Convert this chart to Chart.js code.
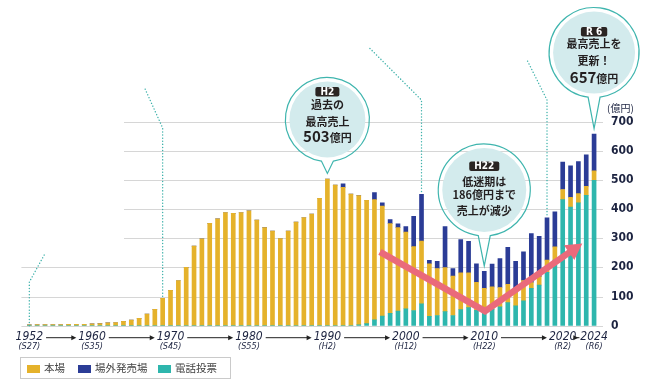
<!DOCTYPE html>
<html lang="ja">
<head>
<meta charset="utf-8">
<title>売上推移</title>
<script src="https://cdn.jsdelivr.net/npm/chart.js@4.4.1/dist/chart.umd.min.js"></script>
<style>
  body { margin: 0; background: #fff; }
  #wrap { position: relative; width: 658px; height: 391px; }
  #legend {
    position: absolute; left: 20px; top: 357px; width: 209px; height: 20px;
    border: 1px solid #cacaca;
    font-family: "Noto Sans CJK JP", sans-serif; font-size: 10.5px; color: #444;
  }
  #legend .item { position: absolute; top: 0; height: 20px; line-height: 20px; white-space: nowrap; }
  #legend .item i { display: inline-block; width: 13px; height: 8px; margin-right: 4px; vertical-align: -0.5px; }
</style>
</head>
<body>
<div id="wrap">
  <canvas id="salesChart" width="658" height="391"></canvas>
  <div id="legend">
    <span class="item" style="left:6px"><i style="background:#E5B22B"></i>本場</span>
    <span class="item" style="left:57px"><i style="background:#2B3C96"></i>場外発売場</span>
    <span class="item" style="left:137px"><i style="background:#2EB6AD"></i>電話投票</span>
  </div>
</div>
<script>
// years on the x axis
var years = [1952, 1953, 1954, 1955, 1956, 1957, 1958, 1959, 1960,
  1961, 1962, 1963, 1964, 1965, 1966, 1967, 1968, 1969, 1970,
  1971, 1972, 1973, 1974, 1975, 1976, 1977, 1978, 1979, 1980,
  1981, 1982, 1983, 1984, 1985, 1986, 1987, 1988, 1989, 1990,
  1991, 1992, 1993, 1994, 1995, 1996, 1997, 1998, 1999, 2000,
  2001, 2002, 2003, 2004, 2005, 2006, 2007, 2008, 2009, 2010,
  2011, 2012, 2013, 2014, 2015, 2016, 2017, 2018, 2019, 2020,
  2021, 2022, 2023, 2024];

// 本場 (億円)
var honba = [3, 4, 4, 4, 4, 5, 5, 5, 6,
  7, 10, 11, 15, 19, 25, 40, 56, 94, 121,
  155, 200, 273, 298, 351, 366, 388, 385, 388, 394,
  362, 336, 324, 299, 324, 355, 371, 383, 437, 503,
  482, 474, 451, 443, 423, 412, 377, 308, 286, 263,
  219, 215, 180, 161, 151, 135, 126, 119, 96, 80,
  77, 66, 63, 56, 70, 20, 29, 42, 45, 35,
  33, 32, 31, 33];

// 場外発売場 (億円)
var jougai = [0, 0, 0, 0, 0, 0, 0, 0, 0,
  0, 0, 0, 0, 0, 0, 0, 0, 0, 0,
  0, 0, 0, 0, 0, 0, 0, 0, 0, 0,
  0, 0, 0, 0, 0, 0, 0, 0, 0, 0,
  0, 12, 0, 0, 0, 24, 11, 14, 13, 19,
  104, 160, 12, 25, 141, 26, 114, 108, 63, 58,
  78, 99, 127, 97, 98, 168, 138, 145, 120, 94,
  108, 110, 108, 126];

// 電話投票 (億円)
var denwa = [0, 0, 0, 0, 0, 0, 0, 0, 0,
  0, 0, 0, 0, 0, 0, 0, 0, 0, 0,
  0, 0, 0, 0, 0, 0, 0, 0, 0, 0,
  0, 0, 0, 0, 0, 0, 0, 0, 0, 0,
  0, 0, 0, 3, 7, 20, 33, 42, 50, 58,
  52, 75, 32, 35, 48, 35, 55, 62, 53, 48,
  56, 65, 79, 68, 85, 128, 139, 183, 225, 432,
  407, 421, 447, 498];

var yTicks = [0, 100, 200, 300, 400, 500, 600, 700];
var labelYears = [1952, 1960, 1970, 1980, 1990, 2000, 2010, 2020, 2024];
var eraLabels = ["(S27)", "(S35)", "(S45)", "(S55)", "(H2)", "(H12)", "(H22)", "(R2)", "(R6)"];

var NARROW = "'Liberation Sans Narrow', 'DejaVu Sans Condensed', sans-serif";
var JP = "'Noto Sans CJK JP', sans-serif";
var INK = "#1c2340";

// speech bubbles over the three key years
var callouts = [
  { year: 1990, badge: "H2", drop: 54, r: 42, badgeY: -28,
    lines: ["過去の", "最高売上"], lineY: [-15, 2], amount: "503", amountY: 18 },
  { year: 2010, badge: "H22", drop: 76, r: 46, badgeY: -24,
    lines: ["低迷期は", "186億円まで", "売上が減少"], lineY: [-8, 5, 21] },
  { year: 2024, badge: "R 6", drop: 76, r: 45, badgeY: -21,
    lines: ["最高売上を", "更新！"], lineY: [-9, 8], amount: "657", amountY: 25 }
];

function totalAt(i) {
  return honba[i] + jougai[i] + denwa[i];
}

function dotted(ctx, pts) {
  ctx.save();
  ctx.strokeStyle = "#3DB1AA";
  ctx.lineWidth = 1.4;
  ctx.lineCap = "round";
  ctx.setLineDash([0.1, 3]);
  ctx.beginPath();
  ctx.moveTo(pts[0][0], pts[0][1]);
  for (var k = 1; k < pts.length; k++) ctx.lineTo(pts[k][0], pts[k][1]);
  ctx.stroke();
  ctx.restore();
}

function drawCallout(ctx, c, tipX, tipY) {
  var cx = tipX, cy = tipY - c.drop;
  ctx.save();
  // fill disk
  ctx.fillStyle = "#D3EBED";
  ctx.beginPath();
  ctx.arc(cx, cy, c.r - 4, 0, Math.PI * 2);
  ctx.fill();
  // outline with tail
  var a = Math.asin(6 / c.r);
  ctx.strokeStyle = "#3FB5AE";
  ctx.lineWidth = 1.2;
  ctx.beginPath();
  ctx.arc(cx, cy, c.r, Math.PI / 2 + a, Math.PI / 2 - a + Math.PI * 2);
  ctx.lineTo(tipX, tipY);
  ctx.closePath();
  ctx.stroke();

  // badge
  ctx.font = "bold 10px " + NARROW;
  var bw = Math.max(24, ctx.measureText(c.badge).width + 10);
  ctx.fillStyle = "#2b2523";
  ctx.beginPath();
  ctx.roundRect(cx - bw / 2, cy + c.badgeY - 4.5, bw, 9.5, 2);
  ctx.fill();
  ctx.fillStyle = "#fff";
  ctx.textAlign = "center";
  ctx.textBaseline = "middle";
  ctx.fillText(c.badge, cx, cy + c.badgeY + 0.5);

  // text lines
  ctx.fillStyle = "#231f20";
  ctx.font = "bold 11px " + JP;
  c.lines.forEach(function (t, k) {
    ctx.fillText(t, cx, cy + c.lineY[k]);
  });
  if (c.amount) {
    ctx.font = "bold 15px " + JP;
    var w1 = ctx.measureText(c.amount).width;
    ctx.font = "bold 11px " + JP;
    var w2 = ctx.measureText("億円").width;
    var x0 = cx - (w1 + w2) / 2;
    ctx.textAlign = "left";
    ctx.textBaseline = "alphabetic";
    ctx.font = "bold 15px " + JP;
    ctx.fillText(c.amount, x0, cy + c.amountY + 5);
    ctx.font = "bold 11px " + JP;
    ctx.fillText("億円", x0 + w1, cy + c.amountY + 5);
  }
  ctx.restore();
}

var decorations = {
  id: "decorations",
  beforeDatasetsDraw: function (chart) {
    // horizontal grid lines
    var ctx = chart.ctx, y = chart.scales.y, area = chart.chartArea;
    ctx.save();
    ctx.strokeStyle = "#d6d6d6";
    ctx.lineWidth = 1;
    yTicks.forEach(function (v) {
      var py = Math.round(y.getPixelForValue(v)) + 0.5;
      var left = v <= 200 ? area.left - 4 : 124;
      ctx.beginPath();
      ctx.moveTo(left, py);
      ctx.lineTo(area.right + 5, py);
      ctx.stroke();
    });
    ctx.restore();
  },
  afterDatasetsDraw: function (chart) {
    var ctx = chart.ctx, x = chart.scales.x, y = chart.scales.y;
    var base = y.getPixelForValue(0);

    // leader lines (dotted)
    var i1952 = years.indexOf(1952), i1969 = years.indexOf(1969);
    var i2002 = years.indexOf(2002), i2018 = years.indexOf(2018);
    var bx = x.getPixelForValue(i1952);
    dotted(ctx, [[bx, base], [bx, 282], [bx + 16, 253]]);
    bx = x.getPixelForValue(i1969);
    dotted(ctx, [[bx, y.getPixelForValue(totalAt(i1969)) - 2], [bx, 128], [bx - 18, 88]]);
    bx = x.getPixelForValue(i2002);
    dotted(ctx, [[bx, y.getPixelForValue(totalAt(i2002)) - 3], [bx, 100], [bx - 53, 47]]);
    bx = x.getPixelForValue(i2018);
    dotted(ctx, [[bx, y.getPixelForValue(totalAt(i2018)) - 3], [bx, 100], [bx - 20, 60]]);

    // pink V arrow (index, value)
    var vPath = [[44.7, 253], [58.1, 50], [70.5, 282]];
    var p = vPath.map(function (q) { return [x.getPixelForValue(q[0]), y.getPixelForValue(q[1])]; });
    var tip = p[2], prev = p[1];
    var ang = Math.atan2(tip[1] - prev[1], tip[0] - prev[0]);
    var headLen = 16, headW = 9;
    var sx = tip[0] - Math.cos(ang) * headLen, sy = tip[1] - Math.sin(ang) * headLen;
    ctx.save();
    ctx.strokeStyle = "#EA6A7B";
    ctx.fillStyle = "#EA6A7B";
    ctx.lineWidth = 6.5;
    ctx.lineJoin = "miter";
    ctx.beginPath();
    ctx.moveTo(p[0][0], p[0][1]);
    ctx.lineTo(p[1][0], p[1][1]);
    ctx.lineTo(sx + Math.cos(ang) * 2, sy + Math.sin(ang) * 2);
    ctx.stroke();
    ctx.beginPath();
    ctx.moveTo(tip[0], tip[1]);
    ctx.lineTo(sx - Math.sin(ang) * headW, sy + Math.cos(ang) * headW);
    ctx.lineTo(sx + Math.sin(ang) * headW, sy - Math.cos(ang) * headW);
    ctx.closePath();
    ctx.fill();
    ctx.restore();

    // callouts
    callouts.forEach(function (c) {
      var i = years.indexOf(c.year);
      drawCallout(ctx, c, x.getPixelForValue(i), y.getPixelForValue(totalAt(i)) - 5.5);
    });

    // unit label
    ctx.save();
    ctx.fillStyle = INK;
    ctx.font = "10px " + JP;
    ctx.textAlign = "left";
    ctx.textBaseline = "middle";
    ctx.fillText("(億円)", chart.chartArea.right + 9, y.getPixelForValue(700) - 13);

    // x axis year labels with arrows
    var mainY = base + 11.5, subY = base + 21;
    ctx.font = "italic 12px " + NARROW;
    var xs = labelYears.map(function (yr) { return x.getPixelForValue(years.indexOf(yr)); });
    var ws = labelYears.map(function (yr) { return ctx.measureText(String(yr)).width; });
    ctx.textAlign = "center";
    labelYears.forEach(function (yr, k) {
      ctx.font = "italic 12px " + NARROW;
      ctx.fillText(String(yr), xs[k], mainY);
      ctx.font = "italic 9px " + NARROW;
      ctx.fillText(eraLabels[k], xs[k], subY);
    });
    ctx.strokeStyle = "#222";
    ctx.fillStyle = "#222";
    ctx.lineWidth = 1;
    for (var k = 0; k < xs.length - 1; k++) {
      var a0 = xs[k] + ws[k] / 2 + 3;
      var a1 = xs[k + 1] - ws[k + 1] / 2 - 2;
      ctx.beginPath();
      ctx.moveTo(a0, mainY + 0.5);
      ctx.lineTo(a1 - 4, mainY + 0.5);
      ctx.stroke();
      ctx.beginPath();
      ctx.moveTo(a1, mainY + 0.5);
      ctx.lineTo(a1 - 5, mainY - 2);
      ctx.lineTo(a1 - 5, mainY + 3);
      ctx.closePath();
      ctx.fill();
    }
    ctx.restore();
  }
};

document.addEventListener("DOMContentLoaded", function () {
  var ctx = document.getElementById("salesChart").getContext("2d");
  var salesChart = new Chart(ctx, {
    type: "bar",
    data: {
      labels: years,
      datasets: [
        { label: "電話投票", data: denwa, backgroundColor: "#2EB6AD" },
        { label: "本場", data: honba, backgroundColor: "#E5B22B" },
        { label: "場外発売場", data: jougai, backgroundColor: "#2B3C96" }
      ]
    },
    options: {
      responsive: false,
      animation: false,
      devicePixelRatio: 1,
      barThickness: 4,
      layout: { padding: { left: 25.4, right: 0, top: 121.5, bottom: 65.3 } },
      plugins: { legend: { display: false }, tooltip: { enabled: false } },
      scales: {
        x: { stacked: true, display: false, offset: true },
        y: {
          stacked: true,
          position: "right",
          min: 0,
          max: 700,
          afterBuildTicks: function (scale) {
            scale.ticks = yTicks.map(function (v) { return { value: v }; });
          },
          afterFit: function (scale) { scale.width = 60; },
          grid: { display: false, drawTicks: false },
          border: { display: false },
          ticks: {
            padding: 13,
            color: INK,
            font: { family: NARROW, size: 12, weight: "bold" }
          }
        }
      }
    },
    plugins: [decorations]
  });
});
</script>
</body>
</html>
